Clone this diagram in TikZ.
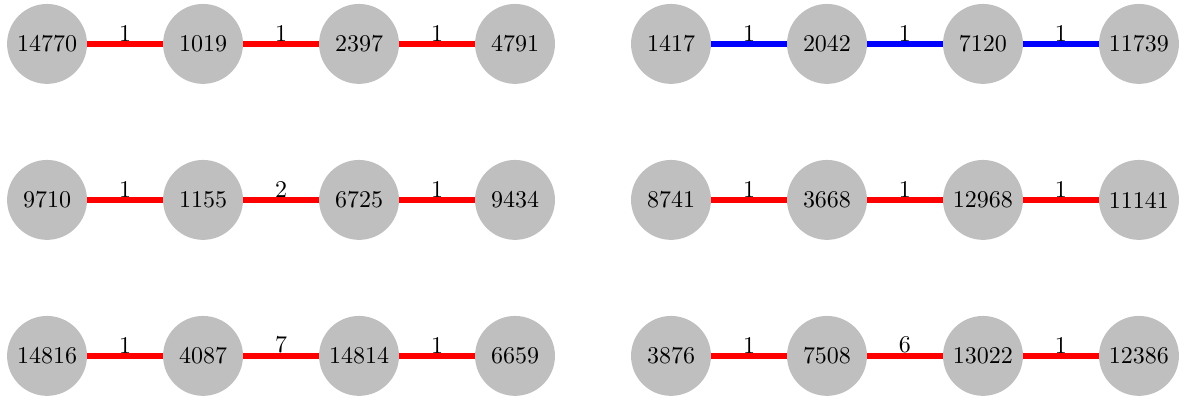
\documentclass[tikz,border=0pt]{standalone}
\begin{document}
\begin{tikzpicture}[x=65pt,y=65pt,
    vtx/.style={circle,fill=lightgray,inner sep=0pt,minimum size=33.3pt},
    wt/.style={above,inner sep=0pt,text=black},
    redge/.style={red,line width=2.2pt},
    bedge/.style={blue,line width=2.2pt}]
  \useasboundingbox (-19.6pt,18.3pt) rectangle (472.1pt,-147.5pt);
  % left column of chains
  \node[vtx] (v14770) at (0,0) {14770};
  \node[vtx] (v1019) at (1,0) {1019};
  \node[vtx] (v2397) at (2,0) {2397};
  \node[vtx] (v4791) at (3,0) {4791};
  \node[vtx] (v9710) at (0,-1) {9710};
  \node[vtx] (v1155) at (1,-1) {1155};
  \node[vtx] (v6725) at (2,-1) {6725};
  \node[vtx] (v9434) at (3,-1) {9434};
  \node[vtx] (v14816) at (0,-2) {14816};
  \node[vtx] (v4087) at (1,-2) {4087};
  \node[vtx] (v14814) at (2,-2) {14814};
  \node[vtx] (v6659) at (3,-2) {6659};
  % right column of chains
  \node[vtx] (v1417) at (4,0) {1417};
  \node[vtx] (v2042) at (5,0) {2042};
  \node[vtx] (v7120) at (6,0) {7120};
  \node[vtx] (v11739) at (7,0) {11739};
  \node[vtx] (v8741) at (4,-1) {8741};
  \node[vtx] (v3668) at (5,-1) {3668};
  \node[vtx] (v12968) at (6,-1) {12968};
  \node[vtx] (v11141) at (7,-1) {11141};
  \node[vtx] (v3876) at (4,-2) {3876};
  \node[vtx] (v7508) at (5,-2) {7508};
  \node[vtx] (v13022) at (6,-2) {13022};
  \node[vtx] (v12386) at (7,-2) {12386};
  % edges
  \draw[redge] (v14770) -- node[wt]{1} (v1019);
  \draw[redge] (v1019) -- node[wt]{1} (v2397);
  \draw[redge] (v2397) -- node[wt]{1} (v4791);
  \draw[redge] (v9710) -- node[wt]{1} (v1155);
  \draw[redge] (v1155) -- node[wt]{2} (v6725);
  \draw[redge] (v6725) -- node[wt]{1} (v9434);
  \draw[redge] (v14816) -- node[wt]{1} (v4087);
  \draw[redge] (v4087) -- node[wt]{7} (v14814);
  \draw[redge] (v14814) -- node[wt]{1} (v6659);
  \draw[bedge] (v1417) -- node[wt]{1} (v2042);
  \draw[bedge] (v2042) -- node[wt]{1} (v7120);
  \draw[bedge] (v7120) -- node[wt]{1} (v11739);
  \draw[redge] (v8741) -- node[wt]{1} (v3668);
  \draw[redge] (v3668) -- node[wt]{1} (v12968);
  \draw[redge] (v12968) -- node[wt]{1} (v11141);
  \draw[redge] (v3876) -- node[wt]{1} (v7508);
  \draw[redge] (v7508) -- node[wt]{6} (v13022);
  \draw[redge] (v13022) -- node[wt]{1} (v12386);
\end{tikzpicture}
\end{document}
